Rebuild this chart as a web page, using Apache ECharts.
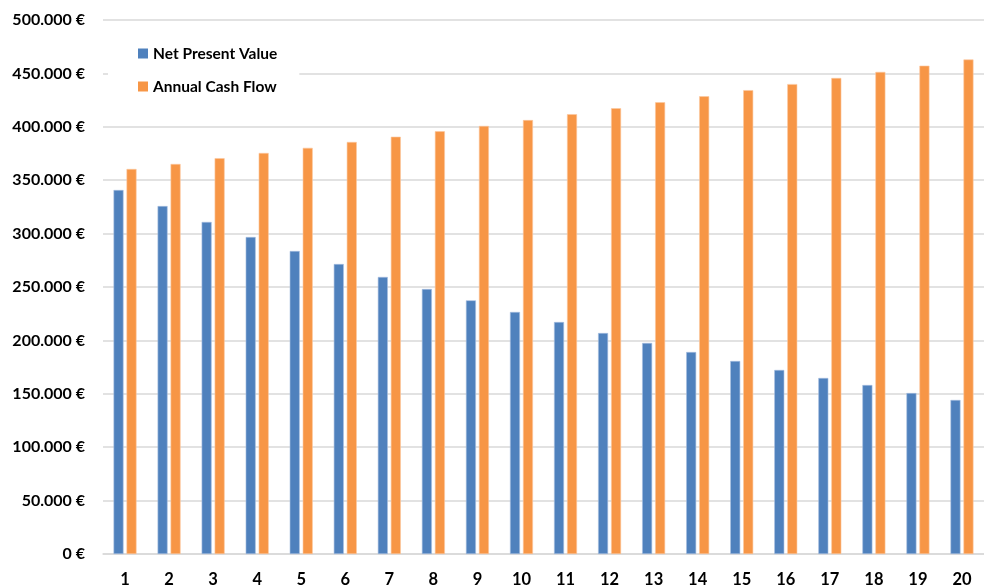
<!DOCTYPE html>
<html>
<head>
<meta charset="utf-8">
<script src="https://cdn.jsdelivr.net/npm/echarts@6/dist/echarts.min.js"></script>
<style>
  html, body { margin: 0; padding: 0; background: #fff; }
  #chart { width: 984px; height: 588px; }
</style>
</head>
<body>
<div id="chart"></div>
<script>
// years 1..20
const years = ['1','2','3','4','5','6','7','8','9','10','11','12','13','14','15','16','17','18','19','20'];

// (euro)
const netPresentValue = [340800, 325800, 310900, 296800, 283700, 271500, 259400, 248100, 237500, 226600,
  217200, 206900, 197600, 189100, 180700, 172300, 164800, 158200, 150700, 144200];
const annualCashFlow = [360500, 365200, 370600, 375500, 380300, 385800, 390700, 395800, 400800, 406300,
  411800, 417400, 423000, 428600, 434300, 440000, 445700, 451400, 457200, 463000];

const seriesNames = ['Net Present Value', 'Annual Cash Flow'];

const fontFam = 'Lato, "Liberation Sans", sans-serif';

function euro(v) {
  return String(v).replace(/\B(?=(\d{3})+(?!\d))/g, '.') + ' €';
}

const chart = echarts.init(document.getElementById('chart'));

chart.setOption({
  animation: false,
  backgroundColor: '#fff',
  grid: { left: 103, right: -8, top: 20, bottom: 33 },
  legend: {
    data: seriesNames,
    orient: 'vertical',
    left: 108,
    top: 37,
    padding: [8, 22, 8, 30],
    backgroundColor: '#fff',
    itemWidth: 10,
    itemHeight: 10,
    itemGap: 16,
    icon: 'rect',
    itemStyle: { borderWidth: 0 },
    textStyle: { fontFamily: fontFam, fontWeight: 'bold', fontSize: 15.5, lineHeight: 17, color: '#000' }
  },
  xAxis: {
    type: 'category',
    data: years,
    axisLine: { lineStyle: { color: '#d9d9d9', width: 1.5 } },
    axisTick: { show: false },
    axisLabel: { margin: 17, fontFamily: fontFam, fontWeight: 'bold', fontSize: 16.5, color: '#000' }
  },
  yAxis: {
    type: 'value',
    min: 0,
    max: 500000,
    interval: 50000,
    axisLine: { show: false },
    axisTick: { show: false },
    splitLine: { lineStyle: { color: '#d9d9d9', width: 1.5 } },
    axisLabel: { margin: 18, formatter: euro, fontFamily: fontFam, fontWeight: 'bold', fontSize: 16, color: '#000' }
  },
  series: [
    {
      name: seriesNames[0],
      type: 'bar',
      data: netPresentValue,
      barWidth: 10,
      barGap: '30%',
      itemStyle: { color: '#4F81BD', borderColor: '#a7bfe0', borderWidth: 0.6 }
    },
    {
      name: seriesNames[1],
      type: 'bar',
      data: annualCashFlow,
      barWidth: 10,
      itemStyle: { color: '#F79646', borderColor: '#fbc8a0', borderWidth: 0.6 }
    }
  ]
});
</script>
</body>
</html>
